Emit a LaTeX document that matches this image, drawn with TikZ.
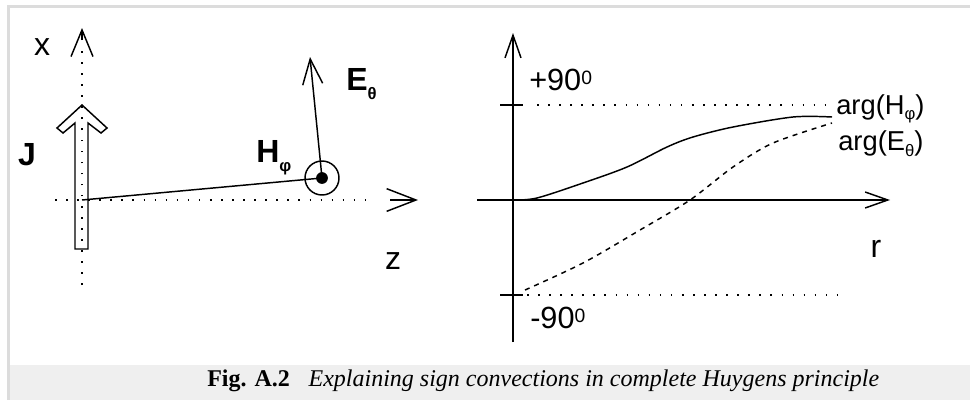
\documentclass[tikz,border=0pt]{standalone}
\usepackage{fontspec}
\setmainfont{Liberation Serif}
\newfontfamily\labelfont{Liberation Sans}
\usetikzlibrary{arrows.meta}
\definecolor{framegray}{HTML}{DCDCDC}
\definecolor{capgray}{HTML}{EFEFEF}
\newcommand{\lowidx}[2]{\raisebox{-#1}{\fontsize{12.5}{12.5}\selectfont #2}}
\newcommand{\highidx}[1]{\raisebox{4pt}{\fontsize{14.5}{14.5}\selectfont #1}}
\tikzset{
  axisline/.style={line width=1.1pt},
  dotline/.style={line width=1.2pt,dash pattern=on 1.2pt off 7.1pt},
  dashline/.style={line width=1.1pt,dash pattern=on 3.75pt off 3.75pt},
  xbarb/.style={-{Straight Barb[length=20pt,width=16.5pt,line width=1.1pt]}},
  zbarb/.style={-{Straight Barb[length=22pt,width=17pt,line width=1.1pt]}},
  ebarb/.style={-{Straight Barb[length=19pt,width=15pt,line width=1.1pt]}},
  graphbarb/.style={-{Straight Barb[length=17pt,width=12pt,line width=1.1pt]}},
  axislabel/.style={font=\labelfont\fontsize{24}{24}\selectfont},
  vectorlabel/.style={font=\labelfont\bfseries\fontsize{24}{24}\selectfont},
  anglelabel/.style={font=\labelfont\fontsize{23}{23}\selectfont},
  curvelabel/.style={font=\labelfont\fontsize{20.5}{20.5}\selectfont}
}
\begin{document}
\begin{tikzpicture}[x=0.75pt,y=-0.75pt,every node/.style={inner sep=0pt}]
  \useasboundingbox (0,0) rectangle (970,400);
  % frame and caption strip
  \fill[framegray] (7,5) rectangle (970,8);
  \fill[framegray] (7,5) rectangle (10,400);
  \fill[capgray] (10,365) rectangle (970,400);

  % left: current J, fields H and E
  \coordinate (xbot) at (82,285);
  \coordinate (xtip) at (82,28);
  \coordinate (zstart) at (55,200);
  \coordinate (ztip) at (418,200);
  \coordinate (orig) at (82,200);
  \coordinate (obs) at (322,178);
  \coordinate (etip) at (310,57);
  \draw[dotline] (xbot) -- (82,45);
  \draw[axisline,xbarb] (82,40) -- (xtip);
  \draw[dotline] (zstart) -- (375,200);
  \draw[axisline,zbarb] (390,200) -- (ztip);
  \draw[axisline,line join=miter] (75,249) -- (75,123) -- (63,133) -- (57,128)
    -- (82,105) -- (107,128) -- (101,133) -- (88,123) -- (88,249) -- cycle;
  \draw[axisline] (orig) -- (obs);
  \draw[axisline] (obs) circle[radius=12.75pt];
  \fill (obs) circle[radius=4.4pt];
  \draw[axisline,ebarb] (obs) -- (etip);
  \node[axislabel] (xlab) at (42,47) {x};
  \node[axislabel] (zlab) at (393,261) {z};
  \node[vectorlabel] (jlab) at (27,155) {J};
  \node[vectorlabel,anchor=base west] (hlab) at (256,162) {H\lowidx{7pt}{φ}};
  \node[vectorlabel,anchor=base west] (elab) at (346,90) {E\lowidx{7pt}{θ}};

  % right: phases along r
  \coordinate (rbot) at (513,342);
  \coordinate (rtop) at (513,33);
  \coordinate (rleft) at (477,200);
  \coordinate (rright) at (890,200);
  \draw[axisline,graphbarb] (rbot) -- (rtop);
  \draw[axisline,graphbarb] (rleft) -- (rright);
  \draw[axisline] (500,105) -- (523,105);
  \draw[axisline] (500,295) -- (523,295);
  \draw[dotline] (537,105) -- (830,105);
  \draw[dotline] (527,295) -- (845,295);
  \draw[axisline] plot[smooth] coordinates {(514,200) (537,198) (583,183) (627,167)
    (667,147) (693,137) (733,127) (793,117) (832,117)};
  \draw[dashline] plot[smooth] coordinates {(525,290) (583,263) (640,230) (690,200)
    (733,167) (773,143) (832,123)};
  \node[anglelabel,anchor=base west] (plab) at (529,90) {+90\highidx{0}};
  \node[anglelabel,anchor=base west] (mlab) at (530,328) {-90\highidx{0}};
  \node[curvelabel,anchor=base west] (hcurve) at (836,114) {arg(H\lowidx{4pt}{φ})};
  \node[curvelabel,anchor=base west] (ecurve) at (838,150) {arg(E\lowidx{4.5pt}{θ})};
  \node[axislabel] (rlab) at (876,249) {r};

  % caption
  \node[anchor=base west,font=\fontsize{18}{18}\selectfont] (cap) at (207,386)
    {\textbf{Fig. A.2}\hspace{0.78em}\textit{Explaining sign convections in complete Huygens principle}};
\end{tikzpicture}
\end{document}
